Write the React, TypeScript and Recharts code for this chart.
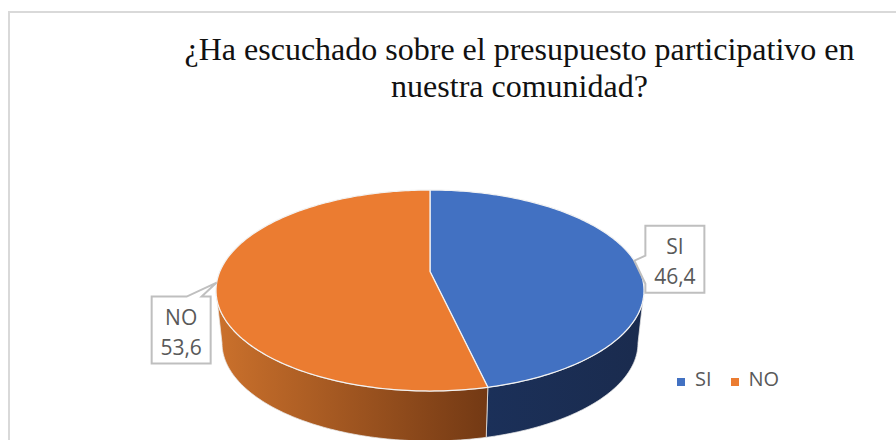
import { PieChart, Pie, Legend } from "recharts";

/* ─── data ─── */
const categories = ["SI", "NO"];
const values = [46.4, 53.6];
const titleLines = [
  "¿Ha escuchado sobre el presupuesto participativo en",
  "nuestra comunidad?",
];

const sliceColors = ["#4271C2", "#EB7C31"];
const wallColors = [
  ["#1B3059", "#1A2B4E"],
  ["#CB712C", "#733914"],
];

const tableData = categories.map((name, i) => ({ name, value: values[i], fill: sliceColors[i] }));

/* ─── fake 3d: the flat pie angles are pushed through a perspective tilt ─── */
const W = 896;
const H = 440;
const CX = 430;
const CY = 290.5;
const R = 214;
const FLAT = 100.5 / 214;
const LEAN = -0.19; // how far the pie centre sits above the middle of the ellipse
const FLOOR = { dy: 52.5, scale: 208 / 214, flat: 98 / 208 };

function project(theta: number, cx: number, cy: number, r: number, floor = false) {
  const rad = (theta * Math.PI) / 180;
  const u = Math.sin(rad);
  const s = -Math.cos(rad);
  const k = 1 + LEAN * s;
  const rx = floor ? r * FLOOR.scale : r;
  const ry = floor ? rx * FLOOR.flat : r * FLAT;
  return {
    x: cx + (rx * u * Math.sqrt(1 - LEAN * LEAN)) / k,
    y: cy + (floor ? FLOOR.dy : 0) + (ry * (s + LEAN)) / k,
  };
}

function arcPoints(from: number, to: number, cx: number, cy: number, r: number, floor = false) {
  const n = Math.max(2, Math.ceil(to - from));
  const pts = [];
  for (let i = 0; i <= n; i++) pts.push(project(from + ((to - from) * i) / n, cx, cy, r, floor));
  return pts;
}

const toPath = (pts: { x: number; y: number }[]) =>
  pts.map((p, i) => `${i ? "L" : "M"}${p.x.toFixed(2)} ${p.y.toFixed(2)}`).join(" ");

function Slice3D(props: any) {
  const { cx, cy, outerRadius, startAngle, endAngle, fill, index } = props;
  const from = 90 - startAngle;
  const to = 90 - endAngle;
  // the wall only shows on the front of the pie
  const limit = (Math.acos(LEAN) * 180) / Math.PI;
  const wallFrom = Math.max(from, limit);
  const wallTo = Math.min(to, 360 - limit);
  const gid = `wall-${index}`;
  const top = arcPoints(from, to, cx, cy, outerRadius);
  // lean moves the centre up by a fixed share of the height
  const vertex = { x: cx, y: cy + outerRadius * FLAT * LEAN };
  return (
    <g>
      <defs>
        <linearGradient id={gid} x1={index === 0 ? 1 : 0} x2={index === 0 ? 0 : 1} y1="0" y2="0">
          <stop offset="0" stopColor={wallColors[index][index === 0 ? 1 : 0]} />
          <stop offset="1" stopColor={wallColors[index][index === 0 ? 0 : 1]} />
        </linearGradient>
      </defs>
      {wallTo > wallFrom && (
        <path
          d={
            toPath([
              ...arcPoints(wallFrom, wallTo, cx, cy, outerRadius),
              ...arcPoints(wallFrom, wallTo, cx, cy, outerRadius, true).reverse(),
            ]) + " Z"
          }
          fill={`url(#${gid})`}
          stroke="#E8E8E8"
          strokeWidth={0.75}
        />
      )}
      <path
        d={`M${vertex.x} ${vertex.y} ${toPath(top).replace("M", "L")} Z`}
        fill={fill}
        stroke="#F2F2F2"
        strokeWidth={1.25}
        strokeLinejoin="round"
      />
    </g>
  );
}

/* ─── callout labels ─── */
function Callout(props: any) {
  const { cx, cy, outerRadius, midAngle, name, value, index } = props;
  const tip = project(90 - midAngle, cx, cy, outerRadius);
  const bw = 59;
  const bh = 67;
  const left = index === 0 ? tip.x + 11 : tip.x - 65;
  const boxTop = index === 0 ? tip.y - 35 : tip.y + 14;
  const r = left + bw;
  const b = boxTop + bh;
  const outline =
    index === 0
      ? `M${left} ${boxTop} H${r} V${b} H${left} V${boxTop + 58} L${tip.x} ${tip.y} L${left} ${boxTop + 30} Z`
      : `M${left} ${boxTop} H${left + 35} L${tip.x} ${tip.y} L${left + 50} ${boxTop} H${r} V${b} H${left} Z`;
  const mid = left + bw / 2;
  const label = { fontFamily: "Open Sans", fontSize: 21, fill: "#595959", textAnchor: "middle" as const };
  return (
    <g>
      <path d={outline} fill="#FFFFFF" stroke="#BFBFBF" strokeWidth={2} />
      <text x={mid} y={boxTop + 28} {...label}>{name}</text>
      <text x={mid} y={boxTop + 58} {...label}>{String(value).replace(".", ",")}</text>
    </g>
  );
}

export default function App() {
  return (
    <div style={{ position: "absolute", left: 0, top: 0, width: W, height: H, overflow: "hidden", background: "#fff" }}>
      <div style={{ position: "absolute", left: 8, top: 11, width: W, height: H, borderLeft: "2px solid #D9D9D9", borderTop: "2px solid #D9D9D9" }} />
      <PieChart width={W} height={H} margin={{ top: 0, right: 0, bottom: 0, left: 0 }} style={{ position: "absolute", left: 0, top: 0 }}>
        <text x={519.5} y={60} textAnchor="middle" fontFamily="Liberation Serif" fontSize={32} fill="#111111">{titleLines[0]}</text>
        <text x={519.5} y={97} textAnchor="middle" fontFamily="Liberation Serif" fontSize={32} fill="#111111">{titleLines[1]}</text>
        <Pie
          data={tableData}
          dataKey="value"
          nameKey="name"
          cx={CX}
          cy={CY}
          innerRadius={0}
          outerRadius={R}
          startAngle={90}
          endAngle={-270}
          legendType="square"
          shape={Slice3D}
          label={Callout}
          labelLine={false}
          isAnimationActive={false}
        />
        <Legend
          layout="horizontal"
          align="left"
          iconSize={8}
          itemSorter={null}
          wrapperStyle={{ position: "absolute", left: 677, top: 365, width: 130, bottom: "auto", textAlign: "left" }}
          formatter={(v: string) => (
            <span style={{ color: "#595959", fontFamily: "Open Sans", fontSize: 20, marginLeft: 6, marginRight: 9 }}>{v}</span>
          )}
        />
      </PieChart>
    </div>
  );
}
